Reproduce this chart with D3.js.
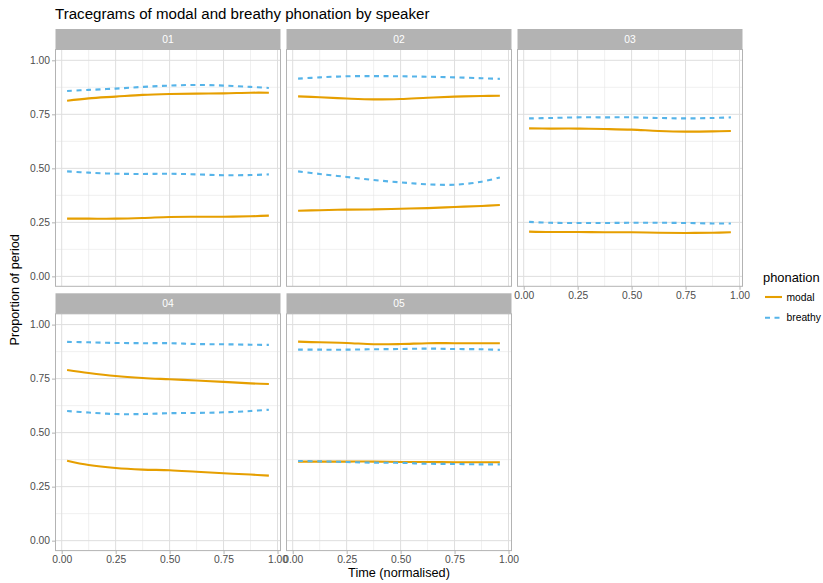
<!DOCTYPE html>
<html>
<head>
<meta charset="utf-8">
<script src="https://cdn.jsdelivr.net/npm/d3@7"></script>
<style>
  html, body { margin: 0; padding: 0; background: #fff; }
  svg { display: block; font-family: "Liberation Sans", Arial, sans-serif; }
</style>
</head>
<body>
<svg id="chart" width="823" height="583"></svg>
<script>
// Normalised time at which each smoothed trace is sampled
const timePoints = [0.025, 0.125, 0.25, 0.375, 0.5, 0.625, 0.75, 0.875, 0.96];
const speakers = ["01", "02", "03", "04", "05"];
const phonations = ["modal", "breathy"];
const xTicks = [0, 0.25, 0.5, 0.75, 1];
const yTicks = [0, 0.25, 0.5, 0.75, 1];

// Proportion of period, one row per speaker (01..05)
const modalUpper = [
  [0.813, 0.824, 0.832, 0.840, 0.844, 0.846, 0.847, 0.850, 0.850],
  [0.833, 0.829, 0.823, 0.819, 0.821, 0.827, 0.832, 0.835, 0.836],
  [0.685, 0.684, 0.684, 0.682, 0.679, 0.673, 0.670, 0.671, 0.673],
  [0.790, 0.776, 0.762, 0.753, 0.747, 0.741, 0.735, 0.728, 0.725],
  [0.921, 0.918, 0.915, 0.909, 0.910, 0.914, 0.914, 0.914, 0.914]
];
const modalLower = [
  [0.267, 0.267, 0.267, 0.270, 0.275, 0.276, 0.276, 0.278, 0.281],
  [0.304, 0.306, 0.309, 0.310, 0.313, 0.316, 0.321, 0.326, 0.330],
  [0.207, 0.205, 0.205, 0.204, 0.204, 0.202, 0.201, 0.202, 0.204],
  [0.370, 0.350, 0.336, 0.329, 0.326, 0.319, 0.312, 0.306, 0.301],
  [0.366, 0.366, 0.366, 0.366, 0.364, 0.364, 0.363, 0.363, 0.363]
];
const breathyUpper = [
  [0.858, 0.863, 0.869, 0.877, 0.883, 0.886, 0.883, 0.877, 0.872],
  [0.915, 0.921, 0.926, 0.927, 0.926, 0.924, 0.921, 0.917, 0.914],
  [0.731, 0.733, 0.736, 0.736, 0.736, 0.733, 0.731, 0.733, 0.736],
  [0.920, 0.918, 0.915, 0.914, 0.914, 0.910, 0.909, 0.907, 0.906],
  [0.884, 0.884, 0.884, 0.886, 0.887, 0.889, 0.887, 0.886, 0.883]
];
const breathyLower = [
  [0.486, 0.480, 0.475, 0.474, 0.475, 0.472, 0.468, 0.469, 0.472],
  [0.486, 0.474, 0.460, 0.446, 0.435, 0.426, 0.424, 0.438, 0.458],
  [0.252, 0.248, 0.247, 0.247, 0.248, 0.248, 0.247, 0.245, 0.245],
  [0.600, 0.593, 0.586, 0.586, 0.590, 0.591, 0.594, 0.600, 0.606],
  [0.369, 0.367, 0.364, 0.361, 0.360, 0.356, 0.355, 0.353, 0.353]
];

const colours = { modal: "#E69F00", breathy: "#56B4E9" };
const dashes = { modal: null, breathy: "5,4.5" };

// Facet layout (3 columns, wrap)
const panelW = 225, panelH = 236.8, stripH = 20.5;
const colLeft = [55.5, 286.5, 517.5];
const rowTop = [29, 293.3];
const ncol = 3;

const svg = d3.select("#chart");

svg.append("text")
  .attr("x", 55).attr("y", 19)
  .attr("font-size", 15.1).attr("fill", "#000")
  .text("Tracegrams of modal and breathy phonation by speaker");

const line = d3.line().curve(d3.curveCatmullRom.alpha(0.5));

speakers.forEach((spk, i) => {
  const col = i % ncol, row = Math.floor(i / ncol);
  const left = colLeft[col];
  const stripTop = rowTop[row];
  const top = stripTop + stripH;

  const x = d3.scaleLinear().domain([-0.0287, 1.0139]).range([left, left + panelW]);
  const y = d3.scaleLinear().domain([-0.046, 1.05]).range([top + panelH, top]);

  // strip
  svg.append("rect")
    .attr("x", left).attr("y", stripTop)
    .attr("width", panelW).attr("height", stripH)
    .attr("fill", "#b3b3b3");
  svg.append("text")
    .attr("x", left + panelW / 2).attr("y", stripTop + stripH / 2 + 3.7)
    .attr("text-anchor", "middle").attr("font-size", 10.3).attr("fill", "#fff")
    .text(spk);

  const g = svg.append("g");
  // minor grid
  const minor = d3.range(0.125, 1, 0.25);
  g.selectAll(".vminor").data(minor).join("line")
    .attr("x1", d => x(d)).attr("x2", d => x(d))
    .attr("y1", top).attr("y2", top + panelH)
    .attr("stroke", "#e6e6e6").attr("stroke-width", 0.6);
  g.selectAll(".hminor").data(minor).join("line")
    .attr("y1", d => y(d)).attr("y2", d => y(d))
    .attr("x1", left).attr("x2", left + panelW)
    .attr("stroke", "#e6e6e6").attr("stroke-width", 0.6);
  // major grid
  g.selectAll(".vmajor").data(xTicks).join("line")
    .attr("x1", d => x(d)).attr("x2", d => x(d))
    .attr("y1", top).attr("y2", top + panelH)
    .attr("stroke", "#dedede").attr("stroke-width", 1);
  g.selectAll(".hmajor").data(yTicks).join("line")
    .attr("y1", d => y(d)).attr("y2", d => y(d))
    .attr("x1", left).attr("x2", left + panelW)
    .attr("stroke", "#dedede").attr("stroke-width", 1);

  // traces
  const series = [
    { ph: "modal", vals: modalUpper[i] },
    { ph: "modal", vals: modalLower[i] },
    { ph: "breathy", vals: breathyUpper[i] },
    { ph: "breathy", vals: breathyLower[i] }
  ];
  series.forEach(s => {
    g.append("path")
      .attr("d", line(s.vals.map((v, k) => [x(timePoints[k]), y(v)])))
      .attr("fill", "none")
      .attr("stroke", colours[s.ph])
      .attr("stroke-width", 2.1)
      .attr("stroke-dasharray", dashes[s.ph]);
  });

  // panel border
  svg.append("rect")
    .attr("x", left).attr("y", top)
    .attr("width", panelW).attr("height", panelH)
    .attr("fill", "none").attr("stroke", "#b3b3b3").attr("stroke-width", 1);

  const styleAxis = sel => {
    sel.select(".domain").remove();
    sel.selectAll(".tick line").attr("stroke", "#b3b3b3");
    sel.selectAll(".tick text").attr("fill", "#4d4d4d").attr("font-size", 10.3)
      .attr("font-family", "Liberation Sans, Arial, sans-serif");
  };

  if (col === 0) {
    svg.append("g").attr("transform", `translate(${left},0)`)
      .call(d3.axisLeft(y).tickValues(yTicks).tickFormat(d3.format(".2f"))
        .tickSize(3.5).tickPadding(2))
      .call(styleAxis);
  }
  const hasBelow = i + ncol < speakers.length;
  if (!hasBelow) {
    svg.append("g").attr("transform", `translate(0,${top + panelH})`)
      .call(d3.axisBottom(x).tickValues(xTicks).tickFormat(d3.format(".2f"))
        .tickSize(3.5).tickPadding(2))
      .call(styleAxis);
  }
});

// axis titles
svg.append("text")
  .attr("x", (colLeft[0] + colLeft[2] + panelW) / 2).attr("y", 577)
  .attr("text-anchor", "middle").attr("font-size", 12.7).attr("fill", "#000")
  .text("Time (normalised)");
svg.append("text")
  .attr("transform", `translate(19,${(rowTop[0] + rowTop[1] + stripH + panelH) / 2}) rotate(-90)`)
  .attr("text-anchor", "middle").attr("font-size", 12.7).attr("fill", "#000")
  .text("Proportion of period");

// legend
const legend = svg.append("g").attr("transform", "translate(763,0)");
legend.append("text")
  .attr("x", 0).attr("y", 282)
  .attr("font-size", 12.9).attr("fill", "#000")
  .text("phonation");
phonations.forEach((ph, k) => {
  const cy = 297 + k * 20.7;
  legend.append("line")
    .attr("x1", 2).attr("x2", 19).attr("y1", cy).attr("y2", cy)
    .attr("stroke", colours[ph]).attr("stroke-width", 2.1)
    .attr("stroke-dasharray", dashes[ph]);
  legend.append("text")
    .attr("x", 23.5).attr("y", cy + 3.7)
    .attr("font-size", 10.3).attr("fill", "#000")
    .text(ph);
});
</script>
</body>
</html>
